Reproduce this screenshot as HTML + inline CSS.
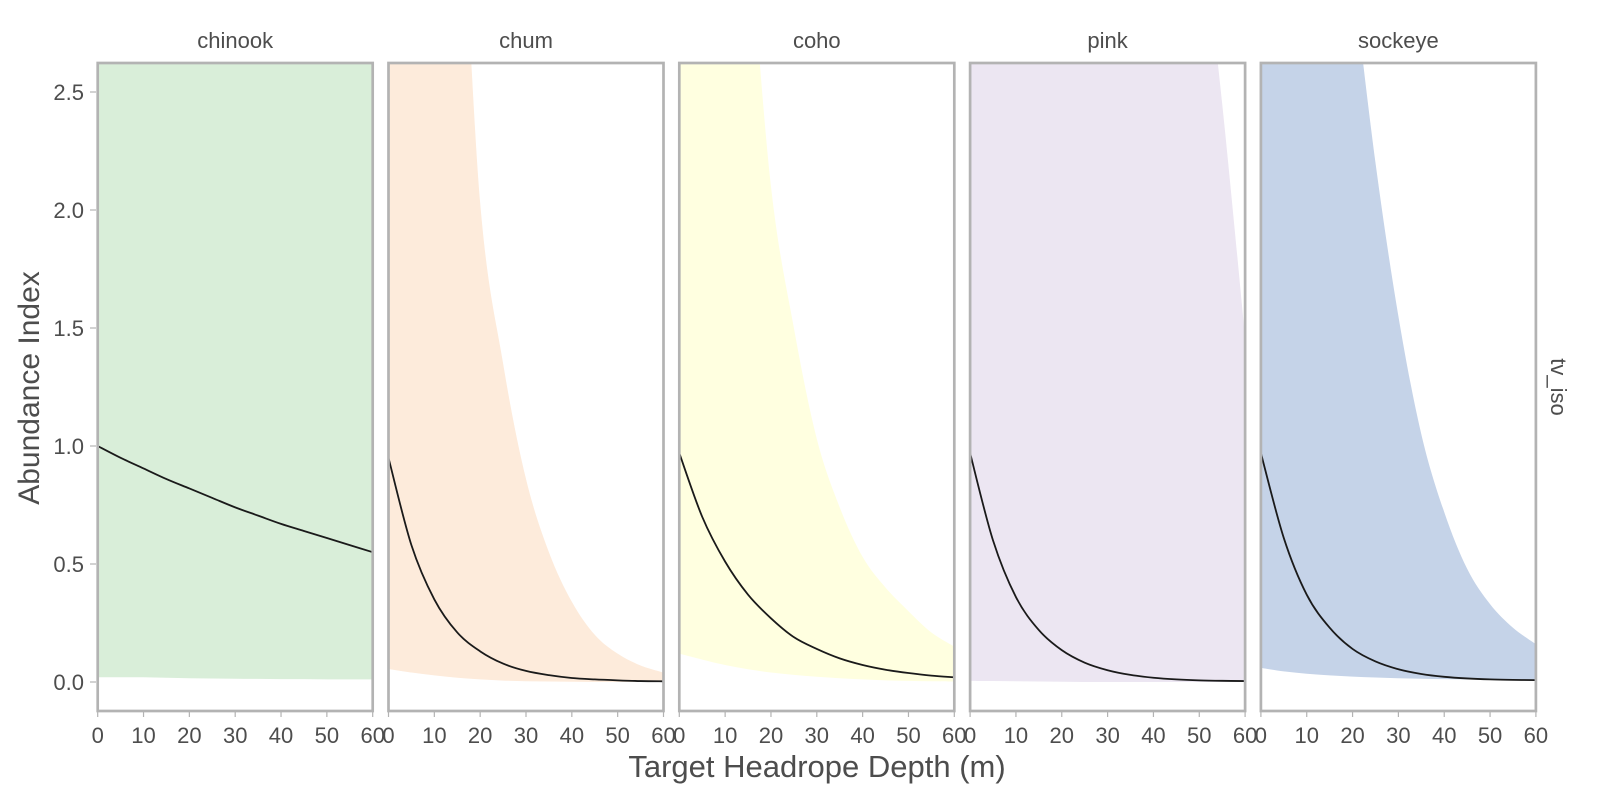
<!DOCTYPE html>
<html><head><meta charset="utf-8"><style>
body{margin:0;background:#fff;}
svg text{font-family:"Liberation Sans",sans-serif;}
</style></head><body>
<svg id="chart" width="1600" height="800" xmlns="http://www.w3.org/2000/svg"></svg>
<script>
const species = ["chinook","chum","coho","pink","sockeye"];
const depths = [0,5,10,15,20,25,30,35,40,45,50,55,60];
const meanChinook = [1.0,0.95,0.905,0.86,0.82,0.78,0.74,0.705,0.67,0.64,0.61,0.58,0.55];
const meanChum = [0.95,0.58,0.35,0.21,0.13,0.078,0.047,0.029,0.017,0.011,0.007,0.004,0.003];
const meanCoho = [0.97,0.70,0.51,0.37,0.27,0.19,0.14,0.10,0.072,0.052,0.038,0.027,0.02];
const meanPink = [0.97,0.60,0.36,0.22,0.135,0.082,0.05,0.03,0.018,0.011,0.007,0.005,0.004];
const meanSockeye = [0.97,0.61,0.37,0.23,0.14,0.087,0.054,0.034,0.022,0.015,0.011,0.009,0.008];
const upperChinook = [9,9,9,9,9,9,9,9,9,9,9,9,9];
const upperChum = [20,12,6,3.6,2.03,1.35,0.86,0.55,0.34,0.2,0.12,0.07,0.04];
const upperCoho = [20,12,6,3.2,2.1,1.5,1.03,0.74,0.53,0.4,0.3,0.21,0.15];
const upperPink = [30,30,30,30,30,30,20,15,10,6,3.3,2.45,1.46];
const upperSockeye = [20,10,6,3.8,3.0,2.2,1.55,1.05,0.72,0.48,0.33,0.23,0.16];
const lowerChinook = [0.02,0.02,0.02,0.018,0.016,0.015,0.014,0.013,0.012,0.012,0.011,0.011,0.011];
const lowerChum = [0.055,0.04,0.028,0.018,0.011,0.006,0.003,0.002,0.001,0,0,0,0];
const lowerCoho = [0.12,0.095,0.072,0.054,0.04,0.03,0.022,0.016,0.011,0.007,0.005,0.003,0.002];
const lowerPink = [0.005,0.004,0.003,0.002,0.001,0,0,0,0,0,0,0,0];
const lowerSockeye = [0.06,0.045,0.035,0.028,0.023,0.019,0.016,0.014,0.012,0.011,0.01,0.01,0.01];
const yTicks = [0,0.5,1,1.5,2,2.5];
const yTickLabels = ["0.0","0.5","1.0","1.5","2.0","2.5"];
const xTicks = [0,10,20,30,40,50,60];

const means=[meanChinook,meanChum,meanCoho,meanPink,meanSockeye];
const uppers=[upperChinook,upperChum,upperCoho,upperPink,upperSockeye];
const lowers=[lowerChinook,lowerChum,lowerCoho,lowerPink,lowerSockeye];
const fills=["#d9eed9","#fdebdb","#ffffe0","#ece6f2","#c5d3e8"];
const NS="http://www.w3.org/2000/svg";
const svg=document.getElementById('chart');
const pTop=63,pBottom=711,pw=275,gap=290.8,x00=97.7;
function yS(v){return 682-236*v;}
function mk(tag,attrs,parent){const e=document.createElementNS(NS,tag);for(const k in attrs)e.setAttribute(k,attrs[k]);(parent||svg).appendChild(e);return e;}
// Catmull-Rom spline path segments through points (no leading M)
function smooth(p){
  let d='';
  for(let i=0;i<p.length-1;i++){
    const p0=p[i-1]||p[i],p1=p[i],p2=p[i+1],p3=p[i+2]||p2;
    const c1=[p1[0]+(p2[0]-p0[0])/6,p1[1]+(p2[1]-p0[1])/6];
    const c2=[p2[0]-(p3[0]-p1[0])/6,p2[1]-(p3[1]-p1[1])/6];
    d+=' C'+c1[0]+','+c1[1]+' '+c2[0]+','+c2[1]+' '+p2[0]+','+p2[1];
  }
  return d;
}

species.forEach((sp,i)=>{
  const x0=x00+i*gap;
  const xS=d=>x0+d/60*pw;
  const g=mk('g',{});
  
  
  const cp=mk('clipPath',{id:'clip'+i},g);
  mk('rect',{x:x0,y:pTop,width:pw,height:pBottom-pTop},cp);
  const inner=mk('g',{'clip-path':'url(#clip'+i+')'},g);
  const up=depths.map((d,j)=>[xS(d),yS(Math.min(uppers[i][j],4))]);
  const lo=depths.map((d,j)=>[xS(d),yS(lowers[i][j])]).reverse();
  const dBand='M'+up[0][0]+','+up[0][1]+smooth(up)+' L'+lo[0][0]+','+lo[0][1]+smooth(lo)+' Z';
  const band=mk('path',{d:dBand,fill:fills[i]},inner);
  
  
  const mp=depths.map((d,j)=>[xS(d),yS(means[i][j])]);
  const line=mk('path',{d:'M'+mp[0][0]+','+mp[0][1]+smooth(mp),fill:'none',stroke:'#1a1a1a','stroke-width':1.8},inner);
  
  
  mk('rect',{x:x0,y:pTop,width:pw,height:pBottom-pTop,fill:'none',stroke:'#b3b3b3','stroke-width':2.7},g);
  const st=mk('text',{x:x0+pw/2,y:48,'text-anchor':'middle','font-size':22,fill:'#4d4d4d'},g);
  st.textContent=sp;
  
  
  xTicks.forEach(t=>{
    mk('line',{x1:xS(t),x2:xS(t),y1:pBottom+1,y2:pBottom+6,stroke:'#b3b3b3','stroke-width':1.2},g);
    const tl=mk('text',{x:xS(t),y:743,'text-anchor':'middle','font-size':22,fill:'#4d4d4d'},g);
    tl.textContent=t;
    
    
  });
});
yTicks.forEach((t,k)=>{
  mk('line',{x1:90,x2:96,y1:yS(t),y2:yS(t),stroke:'#b3b3b3','stroke-width':1.2});
  const tl=mk('text',{x:84,y:yS(t)+8,'text-anchor':'end','font-size':22,fill:'#4d4d4d'});
  tl.textContent=yTickLabels[k];
  
  
});
const xt=mk('text',{x:817,y:777,'text-anchor':'middle','font-size':31,fill:'#4d4d4d'});
xt.textContent='Target Headrope Depth (m)';


const yt=mk('text',{x:0,y:0,'text-anchor':'middle','font-size':30,fill:'#4d4d4d',transform:'translate(39,388) rotate(-90)'});
yt.textContent='Abundance Index';


const rs=mk('text',{x:0,y:0,'text-anchor':'middle','font-size':22,fill:'#4d4d4d',transform:'translate(1551,387) rotate(90)'});
rs.textContent='tv_iso';


</script>
</body></html>
